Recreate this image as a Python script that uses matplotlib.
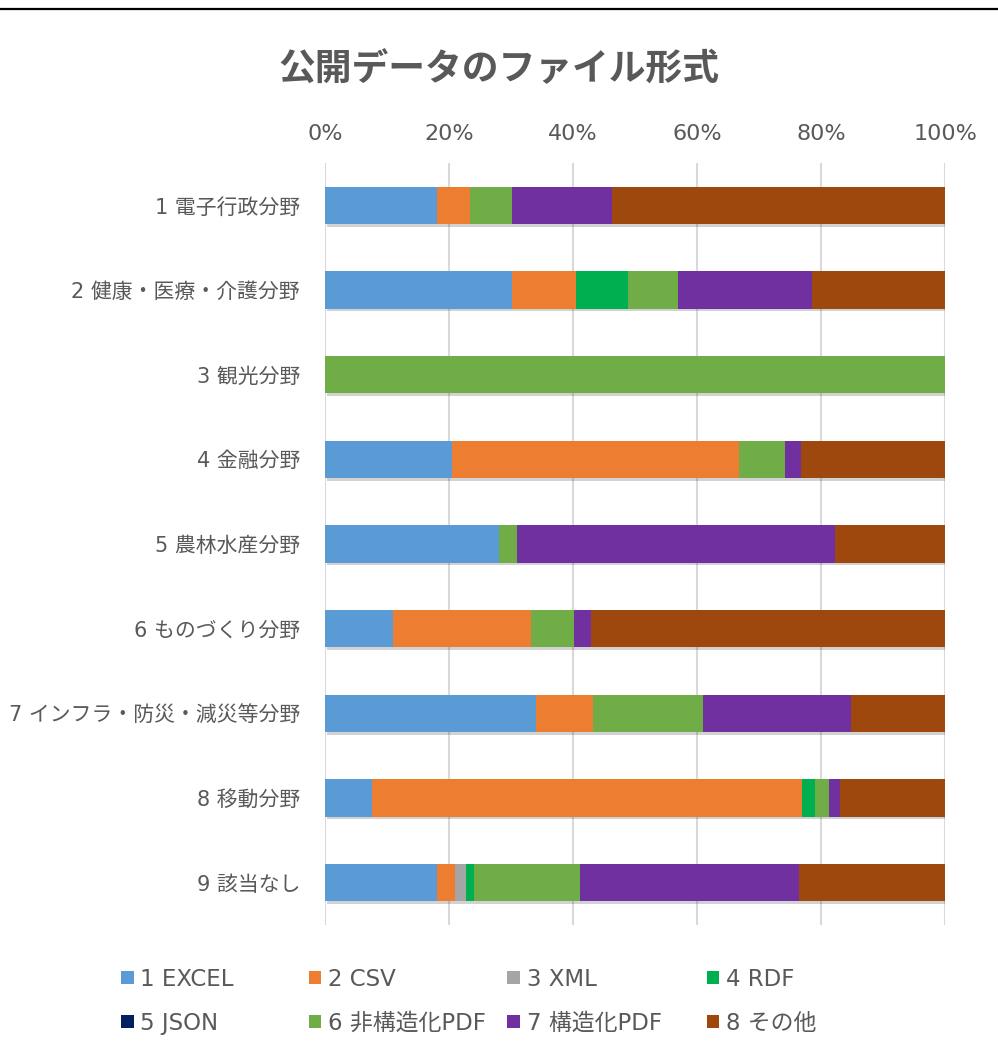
import matplotlib.pyplot as plt
import matplotlib.patheffects as pe
from matplotlib.lines import Line2D
from matplotlib.patches import Patch
import numpy as np

# DejaVu for latin/digits (wide, like the original), Noto for Japanese
plt.rcParams['font.family'] = ['DejaVu Sans', 'Noto Sans CJK JP']

categories = [
    "1 電子行政分野",
    "2 健康・医療・介護分野",
    "3 観光分野",
    "4 金融分野",
    "5 農林水産分野",
    "6 ものづくり分野",
    "7 インフラ・防災・減災等分野",
    "8 移動分野",
    "9 該当なし",
]

series_names = ["1 EXCEL", "2 CSV", "3 XML", "4 RDF", "5 JSON",
                "6 非構造化PDF", "7 構造化PDF", "8 その他"]

# share (%) per category, one list per series
excel = [18.1, 30.2, 0.0, 20.4, 28.0, 10.9, 34.0, 7.6, 18.1]
csv = [5.2, 10.2, 0.0, 46.4, 0.0, 22.3, 9.2, 69.4, 2.9]
xml = [0.0, 0.0, 0.0, 0.0, 0.0, 0.0, 0.0, 0.0, 1.7]
rdf = [0.0, 8.4, 0.0, 0.0, 0.0, 0.0, 0.0, 2.0, 1.3]
json_ = [0.0, 0.0, 0.0, 0.0, 0.0, 0.0, 0.0, 0.0, 0.0]
pdf_unstructured = [6.9, 8.1, 100.0, 7.3, 2.9, 6.9, 17.7, 2.2, 17.1]
pdf_structured = [16.0, 21.7, 0.0, 2.6, 51.3, 2.8, 23.9, 1.9, 35.3]
other = [53.8, 21.4, 0.0, 23.3, 17.8, 57.1, 15.2, 16.9, 23.6]

colors = ["#5B9BD5", "#ED7D31", "#A5A5A5", "#00B050", "#002060",
          "#70AD47", "#7030A0", "#9E480E"]

text_color = "#595959"

fig = plt.figure(figsize=(9.98, 10.52), dpi=100)
ax = fig.add_axes([0.3257, 0.1207, 0.6213, 0.7243])

data = np.array([excel, csv, xml, rdf, json_, pdf_unstructured, pdf_structured, other])
data = data / data.sum(axis=0) * 100
y = np.arange(len(categories))
left = np.zeros(len(categories))
shadow = [pe.SimplePatchShadow(offset=(1.5, -2), alpha=0.22, shadow_rgbFace="#333333"), pe.Normal()]
for vals, color, name in zip(data, colors, series_names):
    bars = ax.barh(y, vals, left=left, height=0.44, color=color, label=name, zorder=3)
    for b in bars:
        b.set_path_effects(shadow)
    left += vals

ax.set_xlim(0, 100)
ax.set_ylim(8.5, -0.5)
ax.set_xticks([0, 20, 40, 60, 80, 100])
ax.set_xticklabels(["0%", "20%", "40%", "60%", "80%", "100%"])
ax.xaxis.tick_top()
ax.tick_params(axis='x', length=0, pad=14, labelsize=16, colors=text_color)
ax.set_yticks(y)
ax.set_yticklabels(categories)
ax.tick_params(axis='y', length=0, pad=18, labelsize=15, colors=text_color)
ax.grid(axis='x', color="#D9D9D9", linewidth=1.5, zorder=0)
for s in ax.spines.values():
    s.set_visible(False)

fig.text(0.5, 0.934, "公開データのファイル形式", ha='center', va='center',
         fontsize=26.5, fontweight='bold', color=text_color,
         family=['Noto Sans CJK JP', 'DejaVu Sans'])

fig.add_artist(Line2D([0, 1], [0.9914, 0.9914], transform=fig.transFigure,
                      color="black", linewidth=1.6))

# legend: 4 columns of 2 entries each, evenly spaced
col_x = [0.112, 0.300, 0.499, 0.699]
for j, x in enumerate(col_x):
    handles = [Patch(facecolor=colors[j], label=series_names[j]),
               Patch(facecolor=colors[j + 4], label=series_names[j + 4])]
    leg = fig.legend(handles=handles, loc='upper left', bbox_to_anchor=(x, 0.089),
                     frameon=False, fontsize=16.5, handlelength=0.55, handleheight=0.55,
                     handletextpad=0.3, labelspacing=0.92, borderaxespad=0)
    for t in leg.get_texts():
        t.set_color(text_color)

fig.savefig("out.png", dpi=100)
